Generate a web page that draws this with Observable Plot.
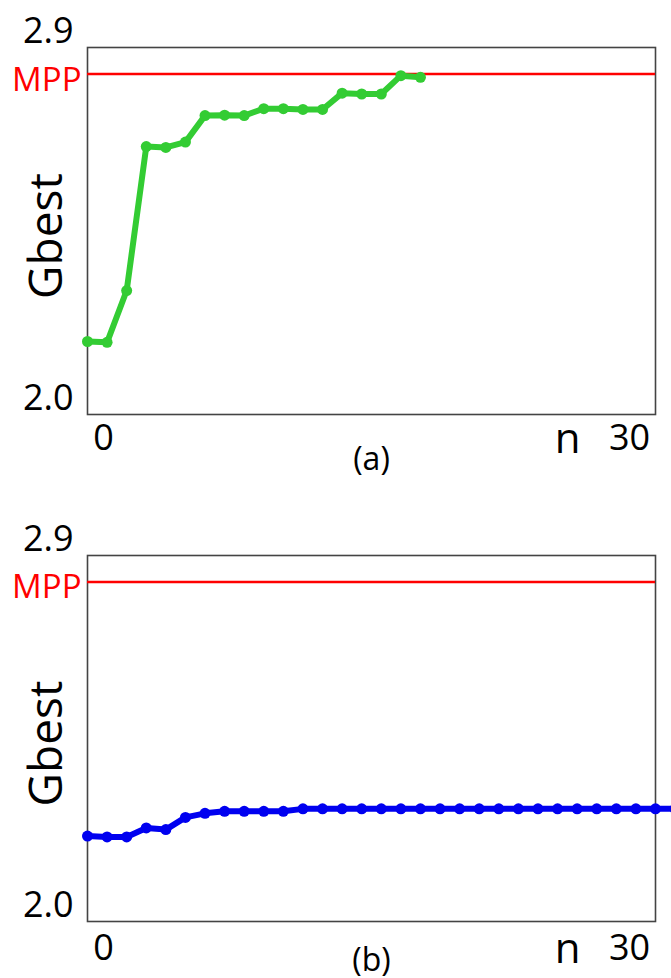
<!DOCTYPE html>
<html>
<head>
<meta charset="utf-8">
<script src="https://cdn.jsdelivr.net/npm/d3@7"></script>
<script src="https://cdn.jsdelivr.net/npm/@observablehq/plot@0.6"></script>
<style>
  html, body { margin: 0; padding: 0; background: #ffffff; overflow: hidden; }
  #chart svg { display: block; }
</style>
</head>
<body>
<div id="chart"></div>
<script>
// ---- data ----
const panelLabels = ["(a)", "(b)"];
const yTickValues = [2.0, 2.9];
const xTickValues = [0, 30];
const xAxisLabel = "n";
const yAxisLabel = "Gbest";
const mppLabel = "MPP";
const mppValue = [2.835];

// panel (a): Gbest per iteration (green)
const greenGbest = [2.179, 2.177, 2.304, 2.657, 2.655, 2.668, 2.733, 2.734, 2.733,
  2.750, 2.750, 2.748, 2.748, 2.788, 2.786, 2.786, 2.831, 2.827];

// panel (b): Gbest per iteration (blue)
const blueGbest = [2.210, 2.208, 2.208, 2.230, 2.226, 2.256, 2.266, 2.271, 2.271, 2.271, 2.271,
  2.277, 2.277, 2.277, 2.277, 2.277, 2.277, 2.277, 2.277, 2.277, 2.277,
  2.277, 2.277, 2.277, 2.277, 2.277, 2.277, 2.277, 2.277, 2.277, 2.277];

const FONT = "'Open Sans', 'DejaVu Sans', sans-serif";

function panel(values, color, label, cfg) {
  const rows = values.map((v, i) => ({ n: i, g: v }));
  return Plot.plot({
    width: 671,
    height: cfg.height,
    marginTop: cfg.top,
    marginBottom: cfg.bottom,
    marginLeft: 87,
    marginRight: 16,
    style: { fontFamily: FONT, background: "#ffffff", color: "#000000", overflow: "hidden" },
    x: { domain: [0, 29], axis: null },
    y: { domain: [2.0, 2.9] },
    marks: [
      Plot.axisY(yTickValues, {
        tickSize: 0, tickPadding: 14, dy: -16, fontSize: 36,
        tickFormat: d3.format(".1f"), label: null, fill: "#000"
      }),
      Plot.frame({ stroke: "#444444", strokeWidth: 1.6 }),
      Plot.ruleY(mppValue, { stroke: "#ff0000", strokeWidth: 2.5 }),
      Plot.text(mppValue, {
        y: d => d, frameAnchor: "left", text: () => mppLabel,
        textAnchor: "end", dx: -6, dy: 6, fill: "#ff0000", fontSize: 33
      }),
      Plot.lineY(rows, { x: "n", y: "g", stroke: color, strokeWidth: 6, strokeLinejoin: "round" }),
      Plot.dot(rows, { x: "n", y: "g", r: 5.5, fill: color, stroke: null }),
      Plot.text(xTickValues.slice(0, 1), {
        x: d => d, frameAnchor: "bottom", text: d => String(d),
        dx: 16, dy: cfg.xdy, fontSize: 36, fill: "#000"
      }),
      Plot.text(xTickValues.slice(1), {
        x: d => d, frameAnchor: "bottom", text: d => String(d),
        dx: -45.6, dy: cfg.xdy, fontSize: 36, fill: "#000"
      }),
      Plot.text([xAxisLabel], {
        frameAnchor: "bottom-right", text: d => d, textAnchor: "middle",
        dx: -88, dy: cfg.xdy + 3, fontSize: 42, fill: "#000"
      }),
      Plot.text([yAxisLabel], {
        frameAnchor: "left", text: d => d, rotate: -90, textAnchor: "middle",
        dx: -40, dy: cfg.gdy, fontSize: 46, fill: "#000"
      }),
      Plot.text([label], {
        frameAnchor: "bottom", text: d => d,
        dy: cfg.ldy, fontSize: 32, fill: "#000"
      })
    ]
  });
}

const root = document.getElementById("chart");
root.appendChild(panel(greenGbest, "#33cc33", panelLabels[0],
  { height: 500, top: 47, bottom: 86, xdy: 35, gdy: 5, ldy: 55 }));
root.appendChild(panel(blueGbest, "#0000f0", panelLabels[1],
  { height: 478, top: 55, bottom: 57, xdy: 38, gdy: 5, ldy: 49 }));
</script>
</body>
</html>
